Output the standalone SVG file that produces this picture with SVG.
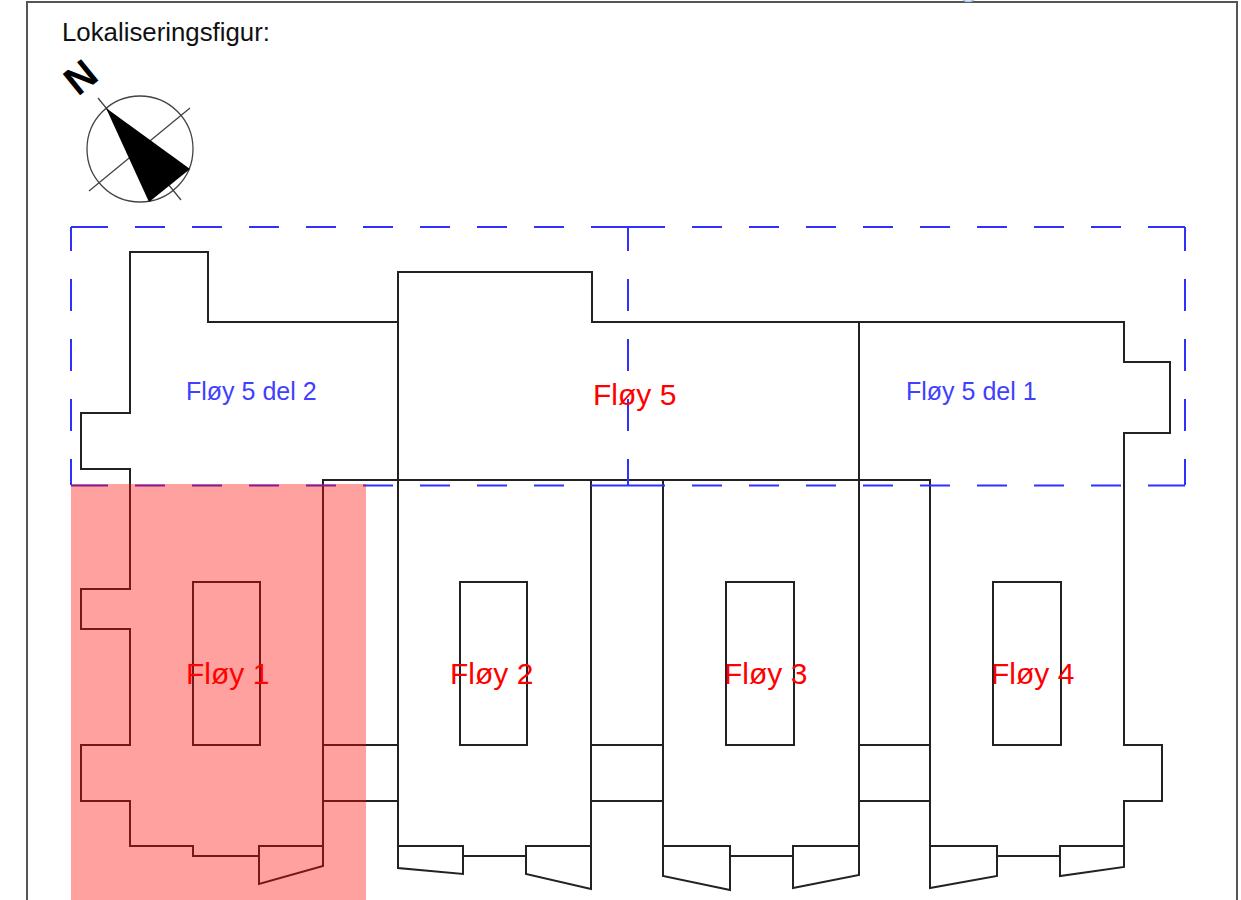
<svg xmlns="http://www.w3.org/2000/svg" width="1241" height="900" viewBox="0 0 1241 900">
<style>
text{font-family:"Liberation Sans",Arial,sans-serif}
.o{fill:none;stroke:#222;stroke-width:2}
.h{fill:none;stroke:#3030ff;stroke-width:2;stroke-dasharray:37 27 30 27 30 27 30 27 30 27 30 27 30 27 30 27 30 27 37}
.v{fill:none;stroke:#3030ff;stroke-width:2;stroke-dasharray:24 28 32 28 32 28 32 28 26}
.r{fill:#f00;font-size:30px}
.l{fill:#4040ff;font-size:25px}
.c{fill:none;stroke:#444;stroke-width:1.3}
</style>
<rect width="1241" height="900" fill="#fff"/>
<g id="frame"><path d="M27 900V2H1237V900" fill="none" stroke="#555" stroke-width="2"/><path d="M963 0Q968 3 974 0" fill="none" stroke="#a8c8e8" stroke-width="1.5"/></g>
<text x="62" y="41" font-size="25.8" fill="#111">Lokaliseringsfigur:</text>
<g id="compass">
<circle class="c" cx="140" cy="149" r="53"/>
<path class="c" d="M98 98L181 200M89 191L190 108"/>
<path d="M106 108L190 169L149 202Z" fill="#000"/>
<text transform="translate(78 97) rotate(-39)" font-size="40" font-weight="700" fill="#000">N</text>
</g>
<g id="connectors">
<path class="o" d="M130 846H193V856H259V846H323V480H930V846H997V856H1060V846H1124V801H1162V745H1124V433H1170V362H1124V322H592V272H398V322H208V252H130V413H81V469H130V589H81V629H130V745H81V801H130Z"/>
<path class="o" d="M398 272V846H463V856H526V846H591V480M663 480V846H730V856H793V846H859V322M1124 846V867L1060 876V846M997 846V876L930 888V846M859 846V875L793 888V846M730 846V890L663 876V846M591 846V889L526 874V846M463 846V874L398 868V846M323 846V866L259 884V856M323 745H398M323 801H398M591 745H663M591 801H663M859 745H930M859 801H930"/>
</g>
<g id="courtyards">
<rect class="o" x="193" y="582" width="67" height="163"/>
<rect class="o" x="460" y="582" width="67" height="163"/>
<rect class="o" x="726" y="582" width="68" height="163"/>
<rect class="o" x="993" y="582" width="68" height="163"/>
</g>
<g id="zones">
<path class="h" d="M71 227H628"/>
<path class="h" d="M628 227H1185"/>
<path class="h" d="M71 485.5H628"/>
<path class="h" d="M628 485.5H1185"/>
<path class="v" d="M71 227V486"/>
<path class="v" d="M628 227V486"/>
<path class="v" d="M1185 227V486"/>
</g>
<g id="labels">
<text class="l" x="186" y="400">Fløy 5 del 2</text>
<text class="l" x="906" y="400">Fløy 5 del 1</text>
<text class="r" x="593" y="405">Fløy 5</text>
<text class="r" x="186" y="684">Fløy 1</text>
<text class="r" x="450" y="684">Fløy 2</text>
<text class="r" x="724" y="684">Fløy 3</text>
<text class="r" x="991" y="684">Fløy 4</text>
</g>
<rect id="highlight" x="71" y="484" width="295" height="416" fill="#ff0800" fill-opacity=".38"/>
</svg>
